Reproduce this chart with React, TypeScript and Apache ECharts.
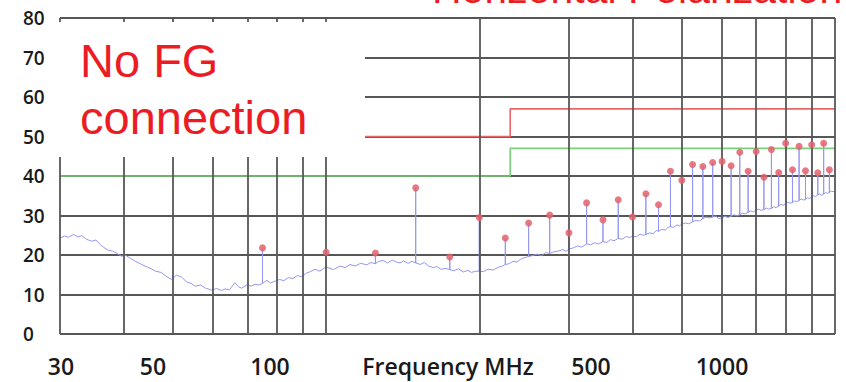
import React, { useEffect, useRef } from "react";
import * as echarts from "echarts";

// ---- data ----
const yTicks = [0, 10, 20, 30, 40, 50, 60, 70, 80];
const gridFreqs = [30, 40, 50, 60, 70, 80, 90, 100, 200, 300, 400, 500, 600, 700, 800, 900, 1000];
const xAxisLabels = ["30", "50", "100", "Frequency MHz", "500", "1000"];

// limit lines (MHz, dBuV/m)
const limitA3m: [number, number][] = [[30, 50], [230, 50], [230, 57], [1000, 57]];
const limitA10m: [number, number][] = [[30, 40], [230, 40], [230, 47], [1000, 47]];

// measured noise floor (MHz, dBuV/m)
const noiseFloor: [number, number][] = [
  [30, 24.3], [30.6, 24.8], [31.2, 24.5], [31.9, 25.2], [32.5, 24.6], [33.1, 24.9], [33.8, 24.0],
  [34.6, 23.5], [35.3, 23.8], [36.0, 22.6], [36.6, 21.9], [37.3, 21.2], [38.0, 21.0], [38.8, 20.4],
  [39.6, 19.7], [40.4, 19.9], [41.2, 19.2], [42.2, 18.4], [43.4, 17.6], [44.6, 16.9], [45.5, 16.4],
  [46.2, 15.9], [47.4, 15.6], [48.5, 14.6], [49.7, 13.8], [50.8, 14.9], [52.0, 14.4], [53.2, 13.2],
  [54.3, 12.8], [55.3, 12.1], [56.7, 12.4], [58.0, 11.6], [59.6, 11.1], [61.0, 11.5], [62.3, 11.0],
  [63.3, 11.4], [64.6, 11.2], [66.2, 13.0], [67.2, 12.0], [68.2, 11.6], [69.8, 12.4], [71.2, 12.1],
  [72.5, 12.6], [73.8, 12.4], [75, 12.8], [76.5, 13.6], [77.8, 12.9], [79.4, 13.4], [81.0, 13.8],
  [82.6, 13.5], [84.3, 14.3], [86.0, 14.0], [87.8, 14.8], [89.6, 14.5], [91.5, 15.4], [93.2, 15.8],
  [95.1, 16.4], [97.2, 15.9], [100, 17.0], [103.3, 16.3], [106.5, 17.2], [109, 16.8], [111.4, 17.6],
  [114, 17.2], [117, 17.9], [120.2, 17.5], [122.5, 18.1], [125, 17.8], [127, 18.4], [129.5, 18.6],
  [132, 18.0], [135, 18.7], [137.5, 18.2], [139.7, 18.0], [142, 18.5], [145, 17.9], [147.5, 18.4],
  [150, 18.0], [153, 17.6], [156, 18.1], [159, 17.2], [162.4, 16.8], [165, 17.1], [168, 16.4],
  [172, 16.6], [175, 16.3], [178, 16.0], [182, 16.5], [186, 15.7], [190, 16.1], [193, 15.6],
  [197, 15.9], [200, 15.9], [204, 15.8], [208, 16.4], [213, 16.2], [218, 16.9], [222, 17.2],
  [225, 17.6], [229, 17.8], [233, 18.4], [237, 18.2], [241, 18.9], [245, 19.3], [250, 19.6],
  [255, 19.9], [260, 20.2], [265, 19.8], [270, 20.6], [275, 20.4], [280, 20.8], [286, 21.0],
  [292, 21.4], [296, 20.9], [300, 21.5], [306, 21.8], [312, 22.3], [318, 22.0], [325, 22.8],
  [331, 22.6], [337, 23.1], [343, 22.8], [350, 23.4], [356, 23.2], [362, 23.9], [368, 23.6],
  [375, 24.2], [382, 24.0], [389, 24.7], [395, 24.4], [400, 24.8], [407, 24.6], [414, 25.3],
  [420, 25.0], [425, 25.2], [432, 25.6], [439, 25.4], [446, 26.2], [450, 26.0], [457, 26.5],
  [464, 26.3], [470, 27.0], [475, 27.2], [482, 27.0], [489, 27.6], [495, 27.4], [500, 27.8],
  [508, 28.1], [516, 27.9], [525, 28.4], [533, 28.8], [541, 28.6], [550, 29.2], [558, 29.6],
  [566, 29.4], [575, 29.6], [583, 29.9], [591, 29.2], [600, 29.4], [608, 29.8], [616, 29.5],
  [625, 29.8], [633, 30.2], [641, 29.9], [650, 30.2], [658, 30.6], [666, 30.4], [675, 30.8],
  [683, 31.2], [691, 30.9], [700, 31.4], [708, 31.6], [716, 31.3], [725, 31.5], [733, 31.9],
  [741, 31.6], [750, 31.8], [758, 32.2], [766, 32.0], [775, 32.4], [783, 32.8], [791, 32.6],
  [800, 33.0], [808, 33.4], [816, 33.1], [825, 33.3], [833, 33.7], [841, 33.5], [850, 33.8],
  [858, 34.2], [866, 33.9], [875, 34.1], [883, 34.5], [891, 34.3], [900, 34.7], [908, 35.0],
  [916, 34.8], [925, 35.2], [933, 35.5], [941, 35.1], [950, 35.4], [958, 35.8], [966, 35.6],
  [975, 35.8], [983, 36.2], [991, 36.0], [1000, 36.3],
];

// peak readings at 25 MHz harmonics
const peakFreq = [75, 100, 125, 150, 175, 200, 225, 250, 275, 300, 325, 350, 375, 400, 425, 450, 475,
  500, 525, 550, 575, 600, 625, 650, 675, 700, 725, 750, 775, 800, 825, 850, 875, 900, 925, 950, 975];
const peakLevel = [21.8, 20.7, 20.5, 37.0, 19.5, 29.5, 24.3, 28.1, 30.1, 25.6, 33.2, 28.9, 34.0, 29.6,
  35.5, 32.7, 41.2, 38.9, 42.9, 42.4, 43.4, 43.7, 42.6, 46.0, 41.2, 46.2, 39.7, 46.7, 40.9, 48.3, 41.6,
  47.5, 41.3, 47.9, 40.8, 48.3, 41.6];

// ---- styles / layout ----
const GRID = { left: 60, right: 11, top: 18, bottom: 48 };
const xLabelCenters = [61, 153, 270, 448, 591, 722];
const RED = "#ec1c24";
const GRID_COLOR = "#575757";

export default function App() {
  const ref = useRef<HTMLDivElement>(null);

  useEffect(() => {
    if (!ref.current) return;
    const chart = echarts.init(ref.current, undefined, { renderer: "svg" });

    // spectrum trace: noise floor with spikes at the peak frequencies
    const trace: [number, number][] = [];
    noiseFloor.forEach(([f, v]) => {
      const i = peakFreq.indexOf(f);
      if (i >= 0) {
        trace.push([f, v], [f, peakLevel[i]], [f, v]);
      } else {
        trace.push([f, v]);
      }
    });
    const peaks = peakFreq.map((f, i) => [f, peakLevel[i]]);

    const graphics: any[] = [
      {
        type: "rect",
        z: 100,
        shape: { x: 52, y: 22, width: 313, height: 135 },
        style: { fill: "#ffffff" },
      },
      {
        type: "text",
        z: 101,
        x: 80,
        y: 60,
        style: {
          text: "No FG",
          fill: RED,
          font: '47px "Liberation Sans", Arial, sans-serif',
          verticalAlign: "middle",
          align: "left",
        },
      },
      {
        type: "text",
        z: 101,
        x: 80,
        y: 117,
        style: {
          text: "connection",
          fill: RED,
          font: '47px "Liberation Sans", Arial, sans-serif',
          verticalAlign: "middle",
          align: "left",
        },
      },
      {
        type: "text",
        z: 101,
        x: 432,
        y: -11,
        style: {
          text: "Horizontal Polarization",
          fill: RED,
          font: '41px "Liberation Sans", Arial, sans-serif',
          verticalAlign: "middle",
          align: "left",
        },
      },
      ...xAxisLabels.map((t, i) => ({
        type: "text",
        z: 101,
        x: xLabelCenters[i],
        y: 366,
        style: {
          text: t,
          fill: "#1a1a1a",
          font: '600 23px "Open Sans", sans-serif',
          align: "center",
          verticalAlign: "middle",
        },
      })),
    ];

    chart.setOption({
      animation: false,
      backgroundColor: "#ffffff",
      grid: { ...GRID },
      xAxis: {
        type: "log",
        logBase: 10,
        min: 30,
        max: 1000,
        axisLine: { show: false },
        axisTick: { show: false },
        axisLabel: { show: false },
        splitLine: { show: false },
      },
      yAxis: {
        type: "value",
        min: 0,
        max: 80,
        interval: 10,
        axisLine: { show: false },
        axisTick: { show: false },
        axisLabel: {
          align: "left",
          margin: 37,
          color: "#1a1a1a",
          fontSize: 19,
          fontWeight: 600,
          fontFamily: '"Open Sans", sans-serif',
          padding: [8, 0, 0, 0],
          formatter: (v: number) => (yTicks.includes(v) ? String(v) : ""),
        },
        splitLine: { show: true, lineStyle: { color: GRID_COLOR, width: 1.8 } },
      },
      series: [
        {
          type: "line",
          z: 1,
          data: [],
          silent: true,
          markLine: {
            silent: true,
            symbol: "none",
            label: { show: false },
            lineStyle: { color: GRID_COLOR, width: 1.8, type: "solid" },
            data: gridFreqs.map((f) => ({ xAxis: f })),
          },
        },
        {
          name: "Limit A 3m",
          type: "line",
          z: 3,
          data: limitA3m,
          symbol: "none",
          lineStyle: { color: "#e8676b", width: 1.6 },
        },
        {
          name: "Limit A 10m",
          type: "line",
          z: 3,
          data: limitA10m,
          symbol: "none",
          lineStyle: { color: "#79d17a", width: 1.6 },
        },
        {
          name: "Trace",
          type: "line",
          z: 4,
          data: trace,
          symbol: "none",
          lineStyle: { color: "#9497f0", width: 1 },
        },
        {
          name: "Peaks",
          type: "scatter",
          z: 5,
          data: peaks,
          symbol: "circle",
          symbolSize: 7,
          itemStyle: { color: "#e2626c", opacity: 0.85 },
        },
      ],
      graphic: graphics,
    });

    return () => chart.dispose();
  }, []);

  return (
    <div
      ref={ref}
      style={{ position: "absolute", left: 0, top: 0, width: 846, height: 382 }}
    />
  );
}
